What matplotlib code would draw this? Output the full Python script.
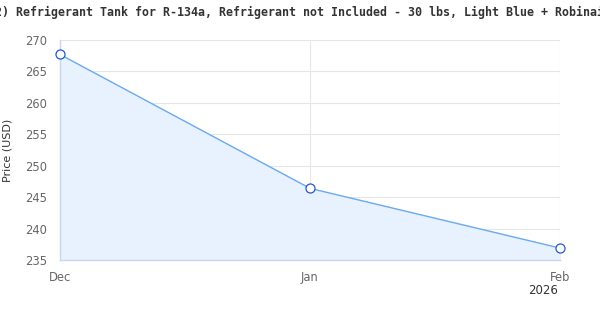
import matplotlib
matplotlib.use("Agg")
import matplotlib.pyplot as plt

title = "(2) Refrigerant Tank for R-134a, Refrigerant not Included - 30 lbs, Light Blue + Robinair"
months = ["Dec", "Jan", "Feb"]
prices = [267.7, 246.4, 236.9]
yticks = [235, 240, 245, 250, 255, 260, 265, 270]
year_label = "2026"

fig = plt.figure(figsize=(6, 3.2), dpi=100)
ax = fig.add_axes([60/600, 1-260/320, 500/600, 220/320])
x = list(range(len(months)))
ax.fill_between(x, prices, 235, color="#e8f1fe", zorder=1)
ax.plot(x, prices, color="#6aaaf0", lw=1, zorder=3)
ax.plot(x, prices, ls="none", marker="o", ms=6.5, mfc="white", mec="#2458c9", mew=0.9, zorder=4, clip_on=False)
ax.set_xlim(0, 2)
ax.set_ylim(235, 270)
ax.set_yticks(yticks)
ax.set_xticks(x)
ax.set_xticklabels(months)
ax.grid(True, color="#e6e6e6", lw=0.8, zorder=0)
ax.set_axisbelow(True)
for s in ["top", "right"]:
    ax.spines[s].set_visible(False)
for s in ["left", "bottom"]:
    ax.spines[s].set_color("#ccd6eb")
    ax.spines[s].set_linewidth(1)
ax.tick_params(axis="both", length=0, labelsize=8.3, labelcolor="#666666")
ax.tick_params(axis="x", pad=8)
ax.tick_params(axis="y", pad=9)
ax.set_ylabel("Price (USD)", fontsize=8, color="#333333", labelpad=9)
fig.text(558/600, 1-290/320, year_label, ha="right", va="center",
         fontsize=8.5, color="#333333")
fig.text(0.5, 1-12/320, title, ha="center", va="center", family="DejaVu Sans Mono",
         fontsize=8.4, fontweight="bold", color="#333333")
fig.savefig("out.png", dpi=100)
